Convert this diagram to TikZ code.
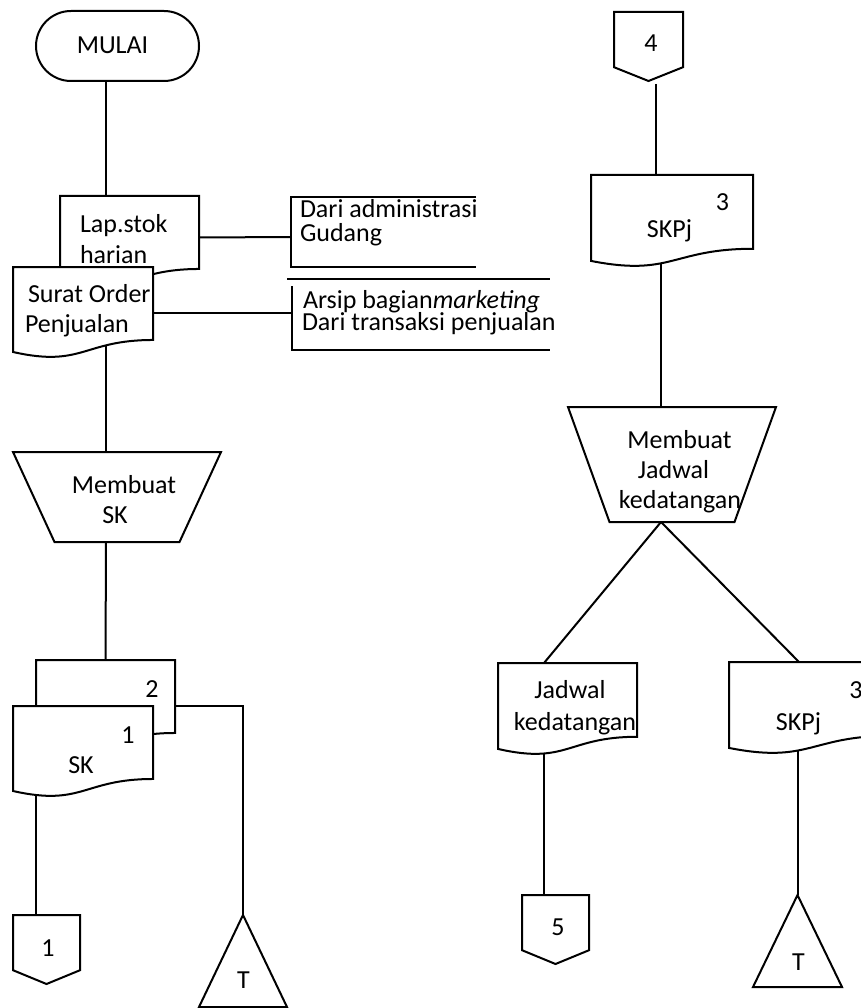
\documentclass[tikz,border=0pt]{standalone}
\usepackage{fontspec}
\setmainfont{Carlito}
\usetikzlibrary{calc}
\tikzset{
  anchorbox/.style={draw=none, inner sep=0pt, outer sep=0pt},
  shp/.style={draw, fill=white, line width=2pt, line join=miter},
  conn/.style={draw, line width=2pt},
  txt/.style={inner sep=0pt, outer sep=0pt, font=\fontsize{26}{30}\selectfont, anchor=base},
  txtl/.style={txt, anchor=base west}
}
\newcommand\drawdoc[1]{\draw[shp] (#1.north west) -- (#1.north east) -- ($(#1.north east)!0.802!(#1.south east)$) .. controls ($(#1.north)!0.802!(#1.south)$) and ($(#1.north)!1.1075!(#1.south)$) .. ($(#1.north west)!0.934!(#1.south west)$) -- cycle;}
\newcommand\drawoff[1]{\draw[shp] (#1.north west) -- (#1.north east) -- ($(#1.north east)!0.8!(#1.south east)$) -- (#1.south) -- ($(#1.north west)!0.8!(#1.south west)$) -- cycle;}
\newcommand\drawtri[1]{\draw[shp] (#1.north) -- (#1.south east) -- (#1.south west) -- cycle;}
\newcommand\drawtrap[1]{\draw[shp] (#1.north west) -- (#1.north east) -- ([xshift=-41.5pt]#1.south east) -- ([xshift=41.5pt]#1.south west) -- cycle;}
\begin{document}
\begin{tikzpicture}[x=1pt,y=-1pt]
\useasboundingbox[fill=white] (0,0) rectangle (860,1008);
% ---------- invisible named frames ----------
\node[anchorbox, minimum width=163pt, minimum height=70pt] (mulai) at (117.5,46) {};
\node[anchorbox, minimum width=139pt, minimum height=91pt] (lap) at (129.5,241.5) {};
\node[anchorbox, minimum width=140pt, minimum height=91pt] (so) at (83,312.5) {};
\node[anchorbox, minimum width=185pt, minimum height=70pt] (an1) at (383.5,232) {};
\node[anchorbox, minimum width=258pt, minimum height=64pt] (an2) at (421,318) {};
\node[anchorbox, minimum width=208pt, minimum height=90pt] (tr1) at (117,497) {};
\node[anchorbox, minimum width=139pt, minimum height=91pt] (sk2) at (105.5,705.5) {};
\node[anchorbox, minimum width=140pt, minimum height=91pt] (sk1) at (83,751.5) {};
\node[anchorbox, minimum width=67pt, minimum height=69pt] (op1) at (46.5,949.5) {};
\node[anchorbox, minimum width=88pt, minimum height=92pt] (t1) at (243,961) {};
\node[anchorbox, minimum width=69pt, minimum height=69pt] (op4) at (648.5,46.5) {};
\node[anchorbox, minimum width=162pt, minimum height=92pt] (skpj1) at (672,221) {};
\node[anchorbox, minimum width=208pt, minimum height=115pt] (tr2) at (672,464.5) {};
\node[anchorbox, minimum width=139pt, minimum height=92pt] (jad) at (567.5,709) {};
\node[anchorbox, minimum width=162pt, minimum height=92pt] (skpj2) at (810,708) {};
\node[anchorbox, minimum width=67pt, minimum height=69pt] (op5) at (555.5,929.5) {};
\node[anchorbox, minimum width=89pt, minimum height=92pt] (t2) at (797.5,941) {};
% ---------- connectors ----------
\draw[conn] ([xshift=-11.5pt]mulai.south) -- ([xshift=-23.5pt]lap.north);
\draw[conn] ([yshift=4pt]lap.east) -- ([yshift=-5pt]an1.west);
\draw[conn] (so.east) -- (so.east -| an2.west);
\draw[conn] ([xshift=23pt]so.center) -- ([xshift=-11pt]tr1.north);
\draw[conn] ([xshift=-11pt]tr1.south) -- (sk2.north);
\draw[conn] (sk2.east) -| (t1.north);
\draw[conn] ([xshift=-47pt]sk1.center) -- ([xshift=-10.5pt]op1.north);
\draw[conn] ([xshift=7.5pt,yshift=-3pt]op4.south) -- ([xshift=-16pt]skpj1.north);
\draw[conn] ([xshift=-11pt]skpj1.center) -- ([xshift=-11pt]tr2.north);
\draw[conn] ([xshift=-11pt]tr2.south) -- ([xshift=-23.5pt]jad.north);
\draw[conn] ([xshift=-11pt]tr2.south) -- ([xshift=-11pt]skpj2.north);
\draw[conn] ([xshift=-23.5pt]jad.center) -- ([xshift=-11.5pt]op5.north);
\draw[conn] ([xshift=-12.5pt]skpj2.center) -- (t2.north);
% ---------- shapes ----------
\draw[shp, rounded corners=35pt] (mulai.north west) rectangle (mulai.south east);
\drawdoc{lap}
\drawdoc{so}
\draw[conn] (an1.north east) -- (an1.north west) -- (an1.south west) -- (an1.south east);
\draw[conn] ([xshift=-5pt,yshift=7pt]an2.north west) -- ([yshift=7pt]an2.north east);
\draw[conn] (an2.north west) -- (an2.south west) -- (an2.south east);
\drawtrap{tr1}
\drawdoc{sk2}
\drawdoc{sk1}
\drawoff{op1}
\drawtri{t1}
\drawoff{op4}
\drawdoc{skpj1}
\drawtrap{tr2}
\drawdoc{jad}
\drawdoc{skpj2}
\drawoff{op5}
\drawtri{t2}
% ---------- texts ----------
\node[txt] (xmulai) at (112.5,54) {MULAI};
\node[txtl] (xlap1) at (80,233) {Lap.stok};
\node[txtl] (xlap2) at (80,263) {harian};
\node[txtl] (xso1) at (28,302) {Surat Order};
\node[txtl] (xso2) at (25,332) {Penjualan};
\node[txtl] (xan1a) at (300,218) {Dari administrasi};
\node[txtl] (xan1b) at (300,241) {Gudang};
\node[txtl] (xan2a) at (303,308) {Arsip bagian\textit{marketing}};
\node[txtl] (xan2b) at (302,330) {Dari transaksi penjualan};
\node[txt] (xtr1a) at (124,493) {Membuat};
\node[txt] (xtr1b) at (115,523) {SK};
\node[txt] (xsk2) at (152,697) {2};
\node[txt] (xsk1a) at (128,743) {1};
\node[txt] (xsk1b) at (81,773) {SK};
\node[txt] (xop1) at (48,956) {1};
\node[txt] (xt1) at (243.5,988) {T};
\node[txt] (xop4) at (651,52) {4};
\node[txt] (xskpj1a) at (722.5,211) {3};
\node[txt] (xskpj1b) at (669.5,237) {SKPj};
\node[txt] (xtr2a) at (679.5,448) {Membuat};
\node[txt] (xtr2b) at (673.5,478) {Jadwal};
\node[txt] (xtr2c) at (680,508) {kedatangan};
\node[txt] (xjad1) at (570,698) {Jadwal};
\node[txt] (xjad2) at (575,730) {kedatangan};
\node[txt] (xskpj2a) at (856,698) {3};
\node[txt] (xskpj2b) at (798.5,730) {SKPj};
\node[txt] (xop5) at (558,935) {5};
\node[txt] (xt2) at (798.5,970) {T};
\end{tikzpicture}
\end{document}
